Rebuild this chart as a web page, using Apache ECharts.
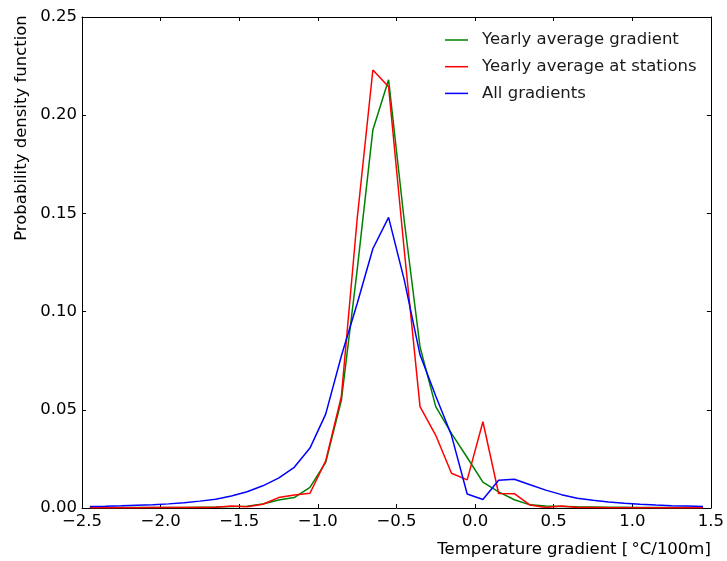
<!DOCTYPE html>
<html>
<head>
<meta charset="utf-8">
<script src="https://cdn.jsdelivr.net/npm/echarts@6/dist/echarts.min.js"></script>
<style>
  html, body { margin: 0; padding: 0; background: #fff; }
  #chart { width: 727px; height: 561px; }
</style>
</head>
<body>
<div id="chart"></div>
<script>
// Bin centres of the temperature-gradient histograms [°C/100m]
const binCentres = [
  -2.45, -2.35, -2.25, -2.15, -2.05, -1.95, -1.85, -1.75, -1.65, -1.55,
  -1.45, -1.35, -1.25, -1.15, -1.05, -0.95, -0.85, -0.75, -0.65, -0.55,
  -0.45, -0.35, -0.25, -0.15, -0.05,  0.05,  0.15,  0.25,  0.35,  0.45,
   0.55,  0.65,  0.75,  0.85,  0.95,  1.05,  1.15,  1.25,  1.35,  1.45
];

// Probability density of the yearly average gradient
const yearlyAverageGradient = [
  0.0002, 0.0002, 0.0002, 0.0003, 0.0003, 0.0003, 0.0003, 0.0004, 0.0005, 0.0007,
  0.0009, 0.0020, 0.0041, 0.0053, 0.0105, 0.0232, 0.0550, 0.1210, 0.1925, 0.2180,
  0.1460, 0.0820, 0.0516, 0.0380, 0.0257, 0.0132, 0.0082, 0.0042, 0.0016, 0.0010,
  0.0008, 0.0006, 0.0005, 0.0004, 0.0004, 0.0003, 0.0003, 0.0002, 0.0002, 0.0002
];

// Probability density of the yearly average at stations
const yearlyAverageStations = [
  0.0001, 0.0001, 0.0001, 0.0001, 0.0002, 0.0002, 0.0002, 0.0002, 0.0004, 0.0010,
  0.0006, 0.0019, 0.0053, 0.0066, 0.0075, 0.0240, 0.0570, 0.1470, 0.2230, 0.2145,
  0.1310, 0.0516, 0.0370, 0.0177, 0.0143, 0.0439, 0.0074, 0.0073, 0.0015, 0.0003,
  0.0010, 0.0003, 0.0002, 0.0001, 0.0001, 0.0001, 0.0001, 0.0001, 0.0001, 0.0001
];

// Probability density of all gradients
const allGradients = [
  0.0008, 0.0009, 0.0011, 0.0014, 0.0017, 0.0021, 0.0027, 0.0035, 0.0045, 0.0061,
  0.0083, 0.0113, 0.0152, 0.0207, 0.0305, 0.0478, 0.0775, 0.1040, 0.1320, 0.1480,
  0.1160, 0.0780, 0.0570, 0.0370, 0.0071, 0.0043, 0.0141, 0.0146, 0.0118, 0.0091,
  0.0068, 0.0050, 0.0039, 0.0030, 0.0024, 0.0019, 0.0015, 0.0012, 0.0010, 0.0008
];

const seriesNames = ['Yearly average gradient', 'Yearly average at stations', 'All gradients'];
const seriesColors = ['#008000', '#ff0000', '#0000ff'];

const FONT = 'DejaVu Sans';
const FS = 16.5;
const pairs = vals => binCentres.map((x, i) => [x, vals[i]]);
const minusFmt = (v, d) => (v < 0 ? '\u2212' : '') + Math.abs(v).toFixed(d);

const chart = echarts.init(document.getElementById('chart'), null, { renderer: 'canvas' });

const tickStyle = { show: true, inside: true, length: 4, lineStyle: { color: '#000', width: 1 } };
const lineStyleAxis = { show: true, onZero: false, lineStyle: { color: '#000', width: 1 } };

chart.setOption({
  animation: false,
  backgroundColor: '#fff',
  textStyle: { fontFamily: FONT },
  grid: { left: 82, right: 15, top: 17, bottom: 53, containLabel: false },
  legend: {
    data: seriesNames,
    orient: 'vertical',
    left: 440,
    top: 26,
    icon: 'rect',
    itemWidth: 23,
    itemHeight: 1.5,
    itemGap: 8.7,
    textStyle: { fontFamily: FONT, fontSize: FS, color: '#1a1a1a', lineHeight: 18, padding: [0, 0, 0, 9] }
  },
  xAxis: [
    {
      type: 'value', min: -2.5, max: 1.5, interval: 0.5,
      axisLine: lineStyleAxis, axisTick: tickStyle, splitLine: { show: false },
      axisLabel: { fontFamily: FONT, fontSize: FS, color: '#000', margin: 5,
        showMinLabel: true, showMaxLabel: true, formatter: v => minusFmt(v, 1) },
      name: 'Temperature gradient [\u2009\u00b0C/100m]',
      nameLocation: 'end', nameGap: 0,
      nameTextStyle: { fontFamily: FONT, fontSize: FS, color: '#000', align: 'right',
        verticalAlign: 'top', padding: [33, 0, 0, 0] }
    },
    {
      type: 'value', position: 'top', min: -2.5, max: 1.5, interval: 0.5,
      axisLine: lineStyleAxis, axisTick: tickStyle, axisLabel: { show: false }, splitLine: { show: false }
    }
  ],
  yAxis: [
    {
      type: 'value', min: 0, max: 0.25, interval: 0.05,
      axisLine: lineStyleAxis, axisTick: tickStyle, splitLine: { show: false },
      axisLabel: { fontFamily: FONT, fontSize: FS, color: '#000', margin: 5,
        showMinLabel: true, showMaxLabel: true, formatter: v => v.toFixed(2) }
    },
    {
      type: 'value', position: 'right', min: 0, max: 0.25, interval: 0.05,
      axisLine: lineStyleAxis, axisTick: tickStyle, axisLabel: { show: false }, splitLine: { show: false }
    }
  ],
  graphic: [{
    type: 'text',
    x: 22, y: 128,
    rotation: Math.PI / 2,
    style: { text: 'Probability density function', font: FS + 'px "DejaVu Sans"', fill: '#000',
      textAlign: 'center', textVerticalAlign: 'middle' }
  }],
  series: [yearlyAverageGradient, yearlyAverageStations, allGradients].map((vals, i) => ({
    name: seriesNames[i],
    type: 'line',
    data: pairs(vals),
    symbol: 'none',
    color: seriesColors[i],
    lineStyle: { color: seriesColors[i], width: 1.5 },
    z: 2 + i
  }))
});
</script>
</body>
</html>
